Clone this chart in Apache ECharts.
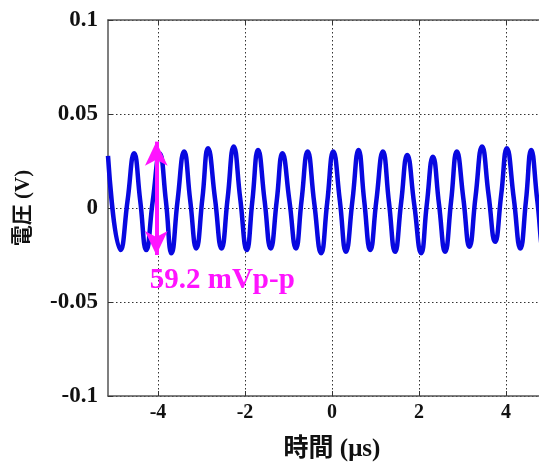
<!DOCTYPE html>
<html lang="ja">
<head>
<meta charset="UTF-8">
<title>電圧波形</title>
<script src="https://cdn.jsdelivr.net/npm/echarts@6/dist/echarts.min.js"></script>
<style>
  html, body { margin: 0; padding: 0; background: #fff; }
  #main { width: 539px; height: 466px; }
</style>
</head>
<body>
<div id="main"></div>
<script>
// waveform: peaks, troughs and crossings (time in µs, voltage in V)
var timeUs = [
  -5.15, -4.86, -4.70, -4.55, -4.41, -4.27, -4.12, -3.96, -3.82, -3.69,
  -3.55, -3.40, -3.26, -3.12, -2.98, -2.85, -2.69, -2.54, -2.40, -2.26,
  -2.11, -1.96, -1.83, -1.70, -1.55, -1.41, -1.27, -1.14, -0.98, -0.83,
  -0.70, -0.56, -0.41, -0.25, -0.11, 0.03, 0.18, 0.32, 0.47, 0.61,
  0.74, 0.88, 1.02, 1.17, 1.31, 1.45, 1.59, 1.73, 1.89, 2.05,
  2.18, 2.32, 2.46, 2.60, 2.74, 2.87, 3.02, 3.16, 3.30, 3.45,
  3.60, 3.75, 3.89, 4.02, 4.18, 4.33, 4.46, 4.58, 4.72, 4.86,
  5.00, 5.15
];
var voltV = [
  0.0277, -0.0224, 0.004, 0.0291, 0.004, -0.0224, 0.004, 0.0290, 0.004, -0.0241,
  0.004, 0.0300, 0.004, -0.0215, 0.005, 0.0318, 0.005, -0.0215, 0.005, 0.0327,
  0.005, -0.0224, 0.004, 0.0309, 0.004, -0.0215, 0.004, 0.0291, 0.004, -0.0215,
  0.004, 0.0300, 0.003, -0.0241, 0.003, 0.0300, 0.004, -0.0233, 0.004, 0.0309,
  0.004, -0.0224, 0.004, 0.0300, 0.003, -0.0233, 0.003, 0.0282, 0.002, -0.0241,
  0.002, 0.0273, 0.002, -0.0233, 0.004, 0.0300, 0.005, -0.0206, 0.006, 0.0327,
  0.007, -0.0180, 0.007, 0.0318, 0.005, -0.0215, 0.004, 0.0309, 0.004, -0.0220,
  0.004, 0.0290
];
var xTicks = [-4, -2, 0, 2, 4];
// peak-to-peak marker and its label
var ppTime = -4.04;
var ppTop = 0.0353;
var ppBottom = -0.0250;
var ppText = '59.2 mVp-p';
var ppTextPos = [-4.19, -0.0384];

var serif = "'Liberation Serif', 'Noto Sans CJK JP', serif";
var waveData = timeUs.map(function (t, i) { return [t, voltV[i]]; });

var chart = echarts.init(document.getElementById('main'));
chart.setOption({
  animation: false,
  // the plot runs past the right edge of the picture, as in the original
  grid: { left: 108, width: 448, top: 20, bottom: 70, outerBoundsMode: 'none' },
  xAxis: [{
    type: 'value',
    min: -5.15,
    max: 5.15,
    name: '時間 (μs)',
    nameLocation: 'middle',
    nameGap: 41,
    nameTextStyle: { fontFamily: serif, fontWeight: 'bold', fontSize: 25, color: '#111' },
    axisLine: { onZero: false, lineStyle: { color: '#555', width: 1.5 } },
    axisTick: { inside: true, length: 5, customValues: xTicks, lineStyle: { color: '#333' } },
    axisLabel: { customValues: xTicks, margin: 7, fontFamily: serif, fontWeight: 'bold', fontSize: 20, color: '#111' },
    splitLine: { show: true, lineStyle: { color: '#333', type: [1.5, 2.5], width: 1 } }
  }, {
    type: 'value',
    position: 'top',
    min: -5.15,
    max: 5.15,
    axisLine: { show: true, onZero: false, lineStyle: { color: '#555', width: 1.5 } },
    axisTick: { show: true, inside: true, length: 5, customValues: xTicks, lineStyle: { color: '#333' } },
    axisLabel: { show: false },
    splitLine: { show: false }
  }],
  yAxis: {
    type: 'value',
    min: -0.1,
    max: 0.1,
    interval: 0.05,
    name: '電圧 (V)',
    nameLocation: 'middle',
    nameGap: 74,
    nameTextStyle: { fontFamily: serif, fontWeight: 'bold', fontSize: 21, color: '#111' },
    axisLine: { show: true, onZero: false, lineStyle: { color: '#555', width: 1.5 } },
    axisTick: { show: true, inside: true, length: 5, lineStyle: { color: '#333' } },
    axisLabel: { margin: 10, fontFamily: serif, fontWeight: 'bold', fontSize: 23, color: '#111' },
    splitLine: { show: true, lineStyle: { color: '#333', type: [1.5, 2.5], width: 1 } }
  },
  series: [{
    type: 'line',
    data: waveData,
    showSymbol: false,
    smooth: 0.5,
    lineStyle: { color: '#0808e0', width: 4.5 },
    markLine: {
      silent: true,
      symbol: ['arrow', 'arrow'],
      symbolSize: [17, 24],
      label: { show: false },
      lineStyle: { color: '#ff14ff', width: 4, type: 'solid' },
      data: [[{ coord: [ppTime, ppTop] }, { coord: [ppTime, ppBottom] }]]
    },
    markPoint: {
      silent: true,
      symbol: 'circle',
      symbolSize: 0,
      data: [{ coord: ppTextPos }],
      label: {
        show: true,
        position: 'right',
        distance: 0,
        formatter: ppText,
        fontFamily: serif,
        fontWeight: 'bold',
        fontSize: 29,
        color: '#ff14ff'
      }
    }
  }]
});
</script>
</body>
</html>
